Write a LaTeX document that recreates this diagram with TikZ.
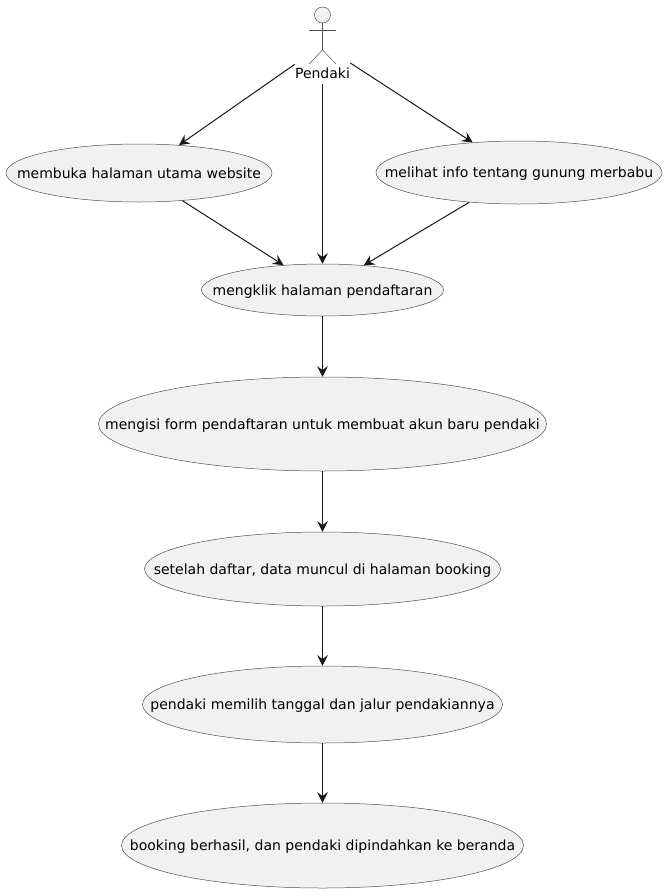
\documentclass[tikz,border=0pt]{standalone}
\usepackage{fontspec}
\setmainfont{DejaVu Sans}
\usepackage{xcolor}
\usetikzlibrary{shapes.geometric, arrows.meta}
\definecolor{ovalfill}{HTML}{F1F1F1}
\definecolor{ink}{HTML}{181818}
\definecolor{thinink}{HTML}{505050}
\tikzstyle{every label} = [inner sep=0pt, text=black, text height=10pt, text depth=2.5pt, font=\fontsize{10.5pt}{12pt}\selectfont]
\tikzstyle{usecase} = [ellipse, inner sep=0pt, draw=thinink, line width=0.375pt, fill=ovalfill]
\tikzstyle{actorbox} = [rectangle, inner sep=0pt, minimum width=41.25pt, minimum height=58.5pt]
\tikzstyle{actorlabel} = [inner sep=0pt, text=black, text height=10pt, text depth=2.5pt, font=\fontsize{10.5pt}{12pt}\selectfont]
\tikzstyle{stick} = [draw=thinink, line width=0.375pt]
\tikzstyle{arrow} = [line width=0.75pt, draw=ink, -{Stealth[length=8pt,width=8pt,inset=3pt]}]

\begin{document}
\begin{tikzpicture}[x=0.75pt, y=-0.75pt]
        \useasboundingbox (0,0) rectangle (666,893);

        \node (actor) [actorbox] at (322.5,45) {};
        \node (pendaki) [actorlabel] at (322.5,73) {Pendaki};
        \node (head) [circle, stick, fill=ovalfill, minimum size=12pt, inner sep=0pt] at (322.5,15) {};
        \coordinate (hip) at (322.5,50);
        \draw [stick] (head) -- (hip);
        \draw [stick] (309,30) -- (336,30);
        \draw [stick] (309,64) -- (hip) -- (336,64);

        \node (buka) [usecase, minimum width=199.5pt, minimum height=43.5pt, label=center:{membuka halaman utama website}] at (139,173) {};
        \node (info) [usecase, minimum width=214.5pt, minimum height=47.25pt, label=center:{melihat info tentang gunung merbabu}] at (519,172.5) {};
        \node (klik) [usecase, minimum width=181.5pt, minimum height=39pt, label=center:{mengklik halaman pendaftaran}] at (322.5,290) {};
        \node (form) [usecase, minimum width=336pt, minimum height=70.5pt, label=center:{mengisi form pendaftaran untuk membuat akun baru pendaki}] at (322.5,424) {};
        \node (data) [usecase, minimum width=267pt, minimum height=55.5pt, label=center:{setelah daftar, data muncul di halaman booking}] at (322.5,569) {};
        \node (jalur) [usecase, minimum width=270pt, minimum height=57.75pt, label=center:{pendaki memilih tanggal dan jalur pendakiannya}] at (322.5,704.5) {};
        \node (hasil) [usecase, minimum width=301.5pt, minimum height=63.75pt, label=center:{booking berhasil, dan pendaki dipindahkan ke beranda}] at (322.5,845.5) {};

        \draw [arrow] (actor) -- (buka);
        \draw [arrow] (actor) -- (klik);
        \draw [arrow] (actor) -- (info);
        \draw [arrow] (buka) -- (klik);
        \draw [arrow] (info) -- (klik);
        \draw [arrow] (klik) -- (form);
        \draw [arrow] (form) -- (data);
        \draw [arrow] (data) -- (jalur);
        \draw [arrow] (jalur) -- (hasil);
    \end{tikzpicture}
\end{document}
